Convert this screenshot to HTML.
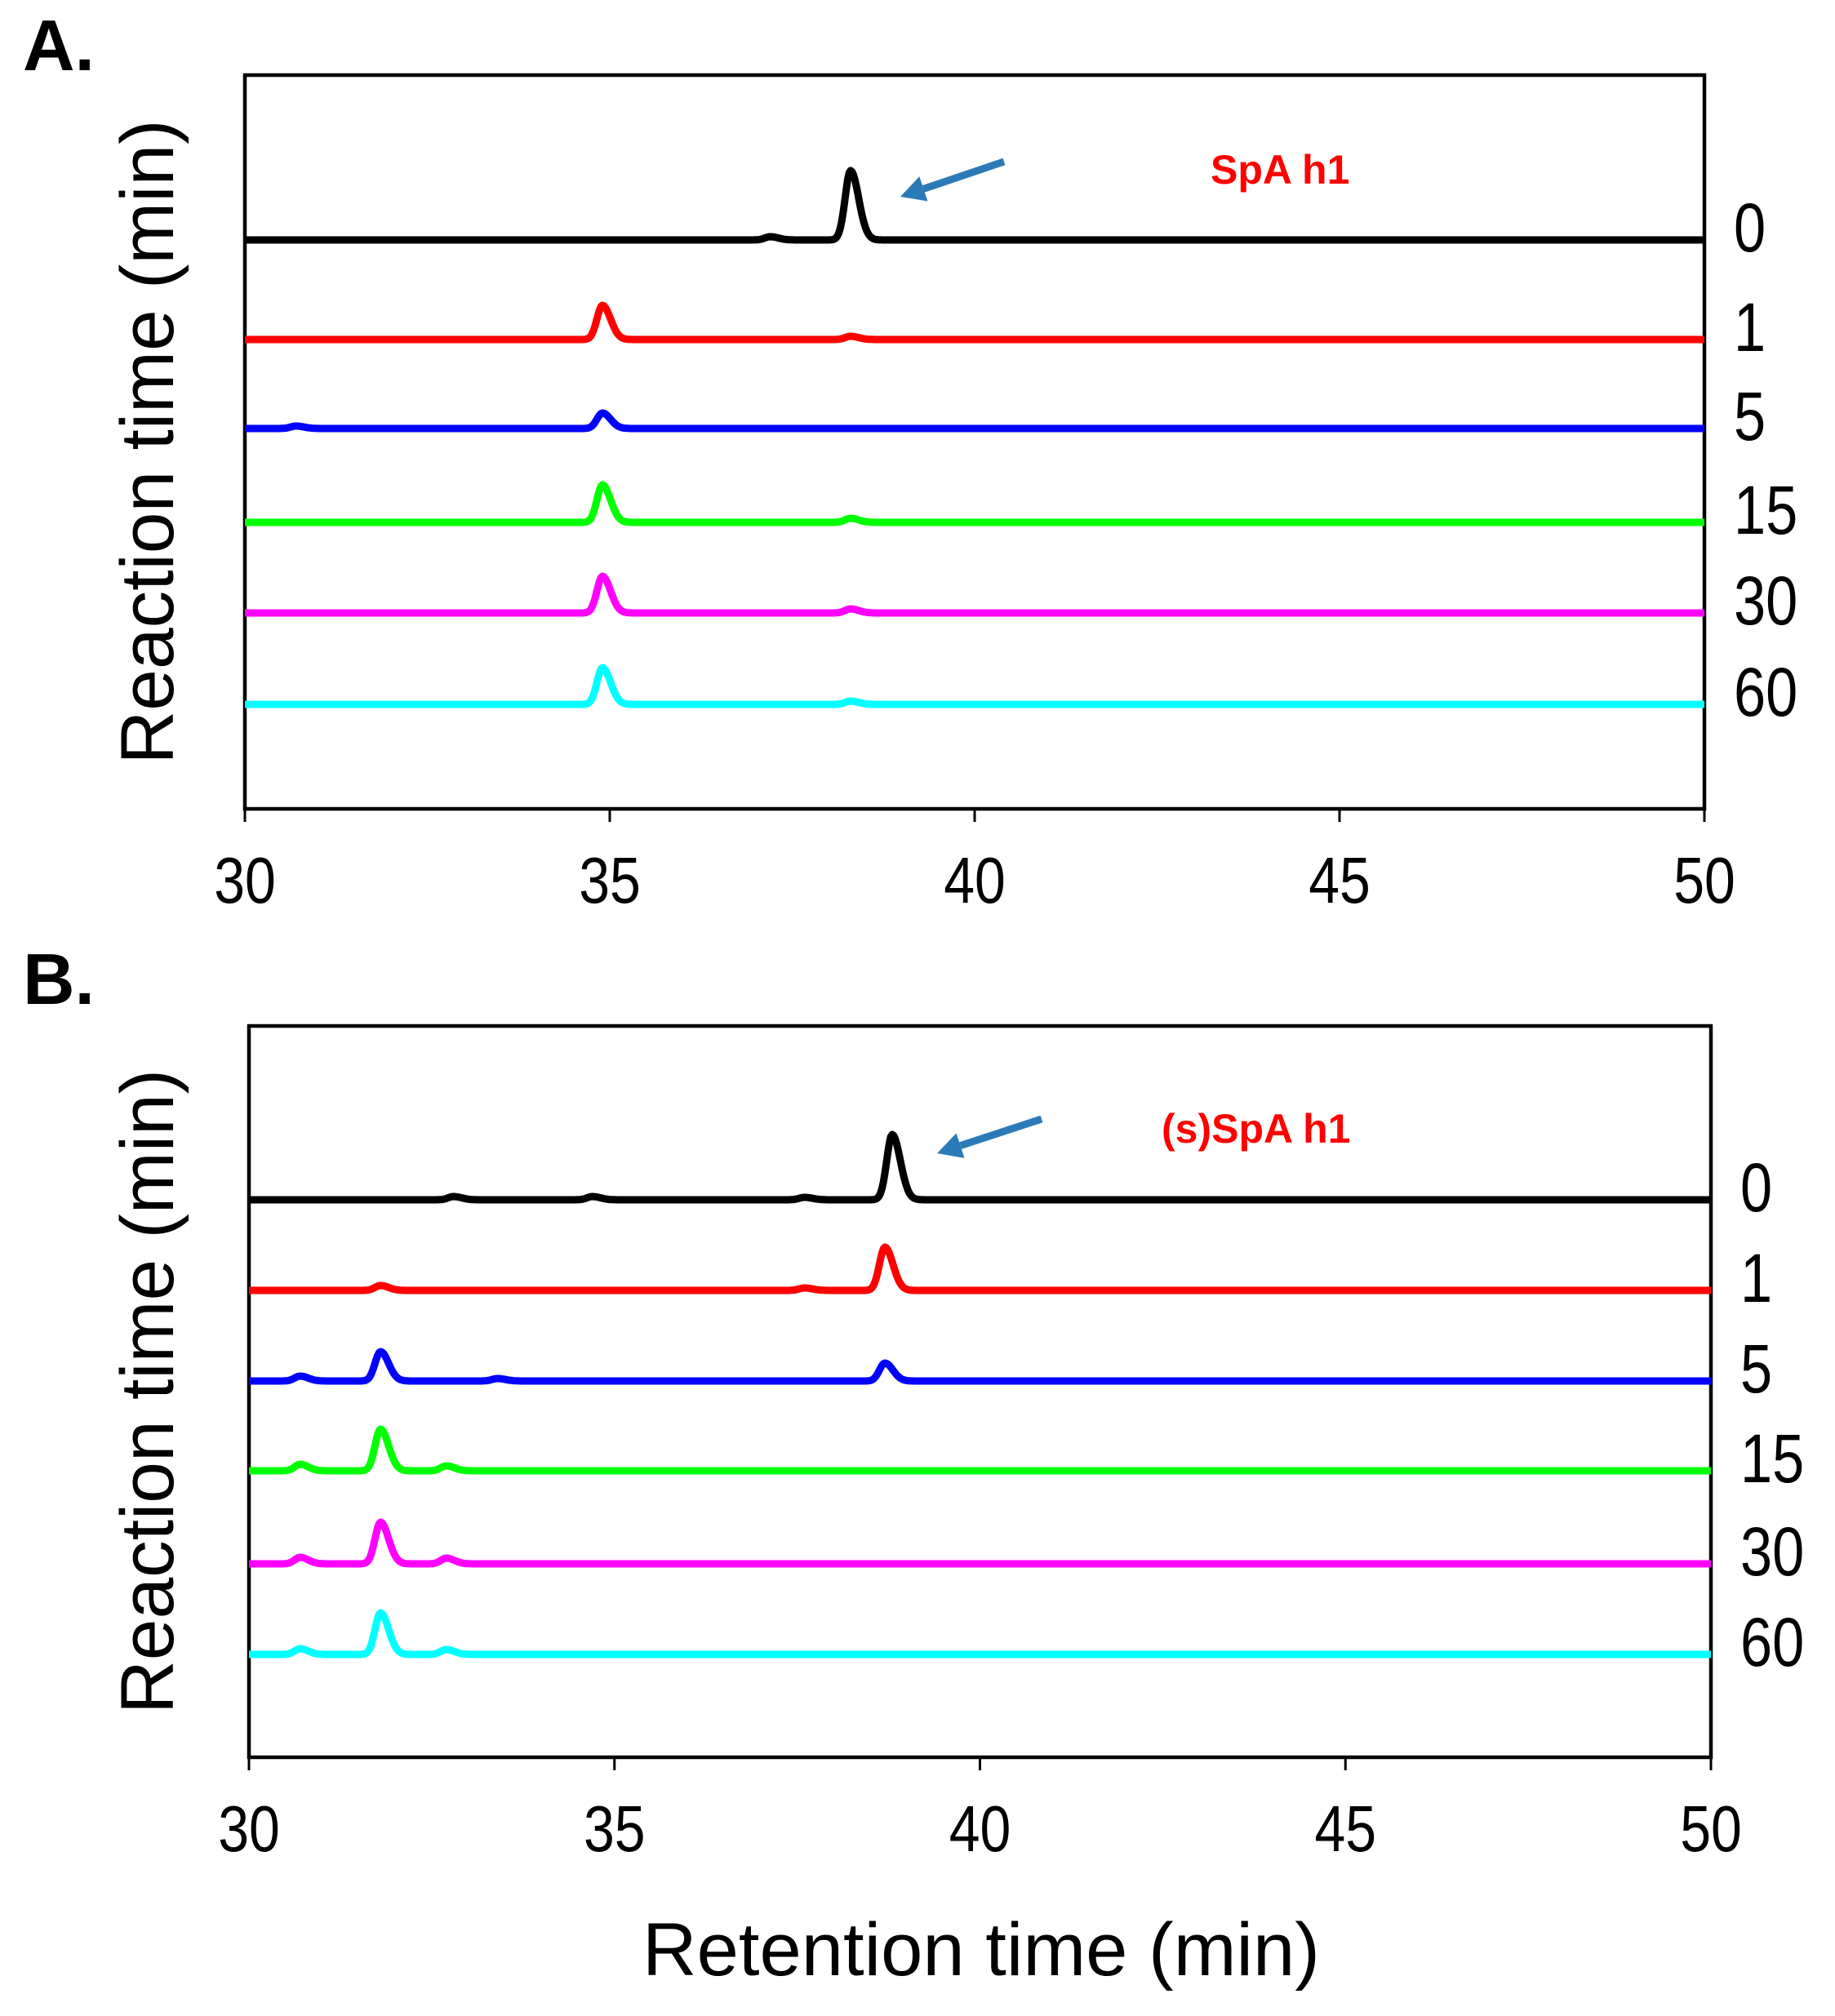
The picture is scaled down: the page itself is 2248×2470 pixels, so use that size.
<!DOCTYPE html>
<html><head><meta charset="utf-8"><style>
html,body{margin:0;padding:0;background:#fff}
svg{display:block}
text{font-family:"Liberation Sans",Arial,sans-serif}
</style></head><body>
<svg id="chart" width="2248" height="2470" viewBox="0 0 2248 2470" xmlns="http://www.w3.org/2000/svg"></svg>
<script>
const ticks = [30, 35, 40, 45, 50];
const runLabels = ["0", "1", "5", "15", "30", "60"];
const colors = ["#000000", "#ff0000", "#0000ff", "#00ff00", "#ff00ff", "#00ffff"];
// Panel A peaks: [retention time, height in px-units]
const peaksA = [
  [[38.3, 85], [37.2, 4]],
  [[34.9, 42], [38.3, 4]],
  [[34.9, 19], [30.7, 3]],
  [[34.9, 46], [38.3, 5]],
  [[34.9, 45], [38.3, 5]],
  [[34.9, 45], [38.3, 4]]
];
// Panel B peaks
const peaksB = [
  [[38.8, 80], [37.6, 3], [32.8, 4], [34.7, 4]],
  [[38.7, 53], [31.8, 6], [37.6, 3]],
  [[31.8, 36], [38.7, 22], [30.7, 6], [33.4, 3]],
  [[31.8, 51], [30.7, 8], [32.7, 6]],
  [[31.8, 51], [30.7, 8], [32.7, 7]],
  [[31.8, 51], [30.7, 7], [32.7, 6]]
];
const svg = document.getElementById('chart');
const NS = 'http://www.w3.org/2000/svg';
function mk(tag, attrs, parent) {
  const e = document.createElementNS(NS, tag);
  for (const k in attrs) e.setAttribute(k, attrs[k]);
  (parent || svg).appendChild(e);
  return e;
}
function panel(p, peaks, baselines, letter, letterY, note, noteX, noteY, arrow) {
  const g = mk('g', {});
  
  
  const xs = v => p.l + (v - 30) / 20 * (p.r - p.l);
  const lt = mk('text', {x: 28, y: letterY, 'font-size': 88, 'font-weight': 'bold'}, g);
  lt.textContent = letter + '.';
  
  
  const frame = mk('rect', {x: p.l, y: p.t, width: p.r - p.l, height: p.b - p.t, fill: 'none', stroke: '#000', 'stroke-width': 4.5}, g);
  
  
  ticks.forEach(t => {
    const tk = mk('line', {x1: xs(t), x2: xs(t), y1: p.b, y2: p.b + 16, stroke: '#000', 'stroke-width': 3}, g);
    
    
    const tl = mk('text', {x: 0, y: 0, 'font-size': 80, 'text-anchor': 'middle', transform: `translate(${xs(t)},${p.b + 115}) scale(0.85,1)`}, g);
    tl.textContent = t;
    
    
  });
  const yt = mk('text', {x: 0, y: 0, 'font-size': 92, 'text-anchor': 'middle', textLength: 790, lengthAdjust: 'spacingAndGlyphs', transform: `translate(${212},${(p.t + p.b) / 2}) rotate(-90)`}, g);
  yt.textContent = 'Reaction time (min)';
  
  
  peaks.forEach((pk, i) => {
    const base = baselines[i];
    let d = '';
    for (let v = 30; v <= 50.0001; v += 0.02) {
      let h = 0;
      pk.forEach(([c, a]) => {
        const dx = v - c;
        const s = dx > 0 ? 0.11 : 0.075;
        h += a * Math.exp(-dx * dx / (2 * s * s));
      });
      d += (d ? 'L' : 'M') + xs(v).toFixed(1) + ',' + (base - h).toFixed(1);
    }
    const path = mk('path', {d: d, fill: 'none', stroke: colors[i], 'stroke-width': 9, 'stroke-linejoin': 'round'}, g);
    
    
    const lab = mk('text', {x: 0, y: 0, 'font-size': 80, transform: `translate(${p.r + 36},${base + 14}) scale(0.88,1.05)`}, g);
    lab.textContent = runLabels[i];
    
    
  });
  const nt = mk('text', {x: noteX, y: noteY, 'font-size': 50, 'font-weight': 'bold', fill: '#ff0000'}, g);
  nt.textContent = note;
  
  
  const [x1, y1, x2, y2] = arrow;
  const ag = mk('g', {}, g);
  
  
  const ang = Math.atan2(y2 - y1, x2 - x1);
  const hx = x2 - 30 * Math.cos(ang), hy = y2 - 30 * Math.sin(ang);
  mk('line', {x1: x1, y1: y1, x2: hx, y2: hy, stroke: '#2a7ab8', 'stroke-width': 9}, ag);
  const px = -Math.sin(ang) * 16, py = Math.cos(ang) * 16;
  mk('polygon', {points: `${x2},${y2} ${hx + px},${hy + py} ${hx - px},${hy - py}`, fill: '#2a7ab8'}, ag);
}
panel({l: 300, r: 2088, t: 92, b: 991}, peaksA, [294, 416, 525, 640, 751, 863], 'A', 86, 'SpA h1', 1483, 225, [1230, 198, 1103, 241]);
panel({l: 305, r: 2096, t: 1257, b: 2153}, peaksB, [1470, 1581, 1692, 1802, 1916, 2027], 'B', 1230, '(s)SpA h1', 1423, 1400, [1276, 1371, 1148, 1413]);
const xt = mk('text', {x: 1202, y: 2420, 'font-size': 92, 'text-anchor': 'middle', textLength: 830, lengthAdjust: 'spacingAndGlyphs'});
xt.textContent = 'Retention time (min)';


</script>
</body></html>
